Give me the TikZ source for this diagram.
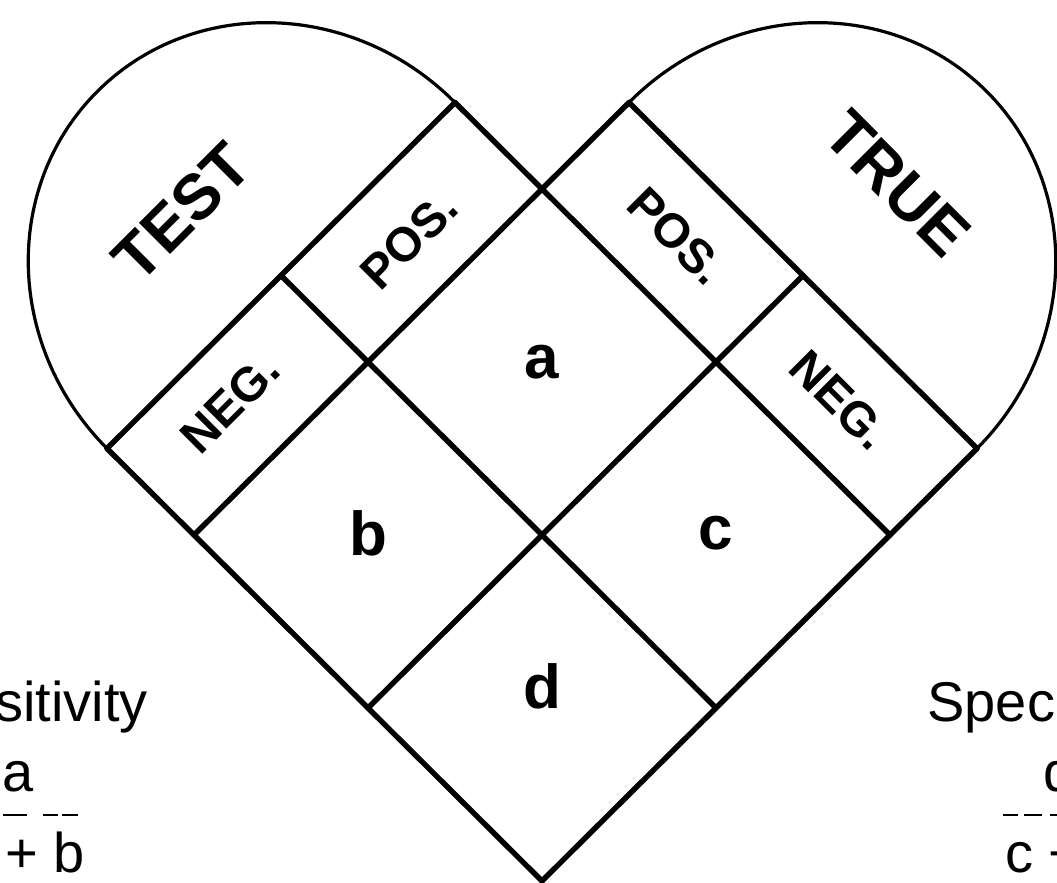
\documentclass[tikz,border=0pt]{standalone}
\usepackage{fontspec}
\setmainfont{Liberation Sans}
\begin{document}
\begin{tikzpicture}[x=0.5pt,y=0.5pt,
  grid/.style={line width=2.7pt, line cap=round, line join=round},
  lobe/.style={line width=1.6pt},
  big/.style={font=\bfseries\fontsize{32}{36}\selectfont, inner sep=0pt},
  striptext/.style={font=\bfseries\fontsize{24}{28}\selectfont, inner sep=0pt},
  cell/.style={font=\bfseries\fontsize{31}{34}\selectfont, inner sep=0pt},
  caption/.style={font=\fontsize{28}{30}\selectfont, inner sep=0pt},
  fracline/.style={line width=1pt}]
\useasboundingbox (0,0) rectangle (1057,883);
\clip (0,0) rectangle (1057,883);
% grid points
\coordinate (T) at (542,694);
\coordinate (L1) at (368,521);
\coordinate (bL) at (194,348);
\coordinate (C) at (542,348);
\coordinate (dL) at (368,175);
\coordinate (tip) at (542,2);
\coordinate (R1) at (716,521);
\coordinate (cR) at (890,348);
\coordinate (dR) at (716,175);
\coordinate (LO0) at (455,780.5);
\coordinate (LO1) at (281,607.5);
\coordinate (LO2) at (107,434.5);
\coordinate (RO0) at (629,780.5);
\coordinate (RO1) at (803,607.5);
\coordinate (RO2) at (977,434.5);
% lobes
\begin{scope}[shift={(LO1)}, rotate=44.835]
  \draw[lobe] (245.37,0) arc[start angle=0, end angle=180, x radius=245.37, y radius=260];
\end{scope}
\begin{scope}[shift={(RO1)}, rotate=-44.835]
  \draw[lobe] (245.37,0) arc[start angle=0, end angle=180, x radius=245.37, y radius=260];
\end{scope}
% grid lines
\draw[grid] (LO0) -- (LO2);
\draw[grid] (RO0) -- (bL);
\draw[grid] (RO1) -- (dL);
\draw[grid] (RO2) -- (tip);
\draw[grid] (RO0) -- (RO2);
\draw[grid] (LO0) -- (cR);
\draw[grid] (LO1) -- (dR);
\draw[grid] (LO2) -- (tip);
% labels
\node[big, rotate=45] (test) at (182,671) {TEST};
\node[big, rotate=-45] (true) at (897,699) {TRUE};
\node[striptext, rotate=45] (lneg) at (230,480) {NEG.};
\node[striptext, rotate=45] (lpos) at (409,643) {POS.};
\node[striptext, rotate=-45] (rpos) at (677,647) {POS.};
\node[striptext, rotate=-45] (rneg) at (840,483) {NEG.};
\node[cell] (a) at (542,521) {a};
\node[cell] (b) at (368,350) {b};
\node[cell] (c) at (716,350) {c};
\node[cell] (d) at (542,197) {d};
% captions
\node[caption, anchor=base east] (sens) at (148,161) {Sensitivity};
\node[caption, anchor=base] (sensnum) at (18,91) {a};
\node[caption, anchor=base east] (sensden) at (85,10) {a + b};
\node[caption, anchor=base west] (spec) at (927,161) {Specificity};
\node[caption, anchor=base west] (specnum) at (1043,91) {d};
\node[caption, anchor=base west] (specden) at (1005,10) {c + d};
\draw[fracline] (3,68) -- (27,68) (43,68) -- (58,68) (62,68) -- (78,68);
\draw[fracline] (1003,68) -- (1018,68) (1024,68) -- (1042,68) (1050,68) -- (1070,68);
\end{tikzpicture}
\end{document}
